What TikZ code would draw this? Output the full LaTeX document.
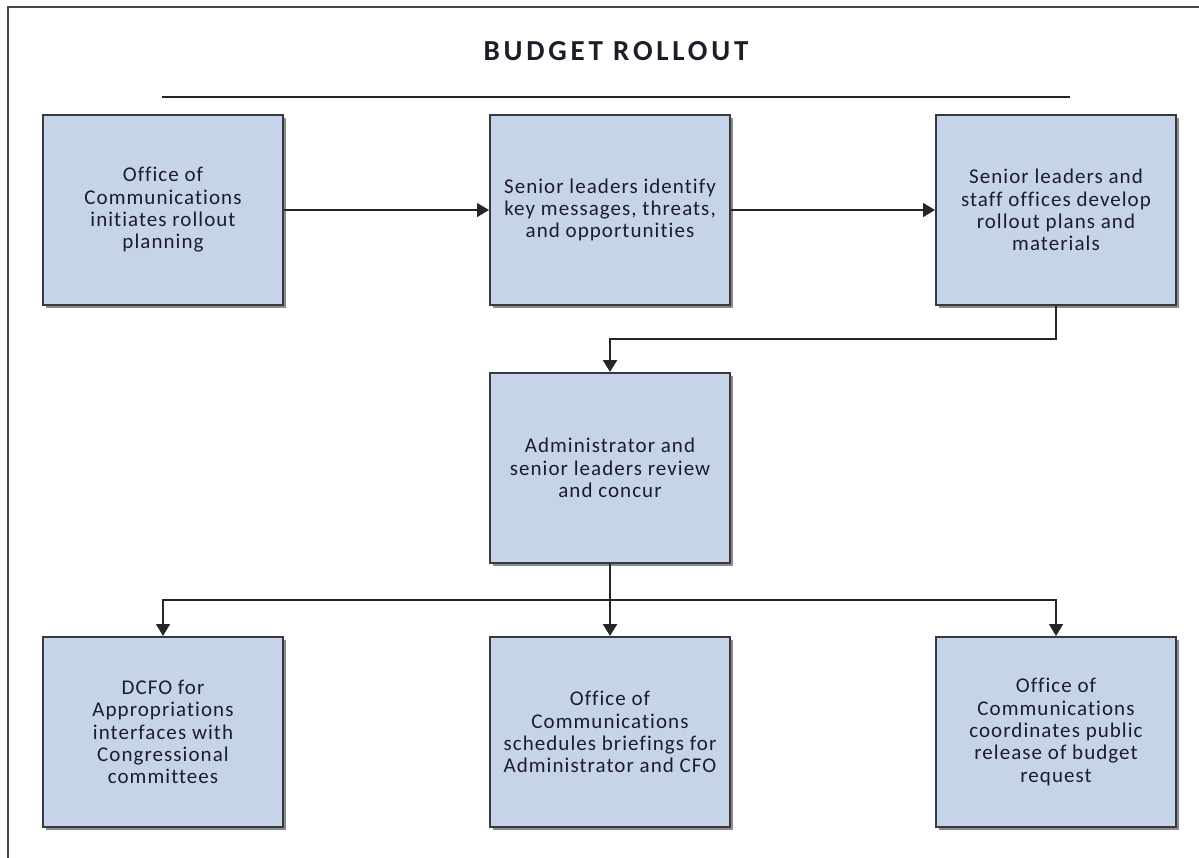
\documentclass[tikz,border=0pt]{standalone}
\usepackage{fontspec}
\setmainfont{Carlito}
\newfontfamily\boxfont[LetterSpace=5,Ligatures=NoCommon]{Carlito}
\newfontfamily\titlefont[LetterSpace=13,Ligatures=NoCommon]{Carlito}
\usetikzlibrary{arrows.meta,shadows}
\definecolor{boxfill}{RGB}{198,212,234}
\definecolor{boxline}{RGB}{55,58,62}
\definecolor{frameline}{RGB}{70,70,70}
\definecolor{inktext}{RGB}{30,28,40}
\tikzset{
  stepbox/.style={draw=boxline, line width=2pt, fill=boxfill, text=inktext,
    minimum width=240pt, minimum height=190pt, inner sep=0pt,
    align=center, font=\boxfont\fontsize{21pt}{22.3pt}\selectfont,
    drop shadow={shadow xshift=3pt, shadow yshift=-3pt, fill=black!45, opacity=1}},
  link/.style={draw=black!85, line width=1.5pt},
  thick link/.style={draw=black!85, line width=2.3pt},
  tip/.style={-{Triangle[length=12pt,width=14pt]}}
}
\begin{document}
\begin{tikzpicture}[x=1pt,y=-1pt]
\useasboundingbox (0,0) rectangle (1199,857);
% outer frame (only top and left edges fall inside the page)
\draw[frameline, line width=2pt] (8,870) -- (8,6.5) -- (1210,6.5);

% heading and rule
\node[text=inktext, font=\titlefont\bfseries\fontsize{29pt}{32pt}\selectfont] (title) at (616,51) {BUDGET ROLLOUT};
\coordinate (ruleL) at (162,97);
\coordinate (ruleR) at (1070,97);
\draw[line width=1.8pt, black!85] (ruleL) -- (ruleR);

% boxes
\node[stepbox] (b1) at (163,210) {Office of\\Communications\\initiates rollout\\planning};
\node[stepbox] (b2) at (610,210) {Senior leaders identify\\key messages, threats,\\and opportunities};
\node[stepbox] (b3) at (1056,210) {Senior leaders and\\staff offices develop\\rollout plans and\\materials};
\node[stepbox] (b4) at (610,468) {Administrator and\\senior leaders review\\and concur};
\node[stepbox] (b5) at (163,732) {DCFO for\\Appropriations\\interfaces with\\Congressional\\committees};
\node[stepbox] (b6) at (610,732) {Office of\\Communications\\schedules briefings for\\Administrator and CFO};
\node[stepbox] (b7) at (1056,732) {Office of\\Communications\\coordinates public\\release of budget\\request};

% connectors
\draw[link, tip] (b1) -- (b2);
\draw[link, tip] (b2) -- (b3);
\draw[thick link, tip] (b3.south) -- ++(0,33) -| (b4.north);
\coordinate (split) at (610,600);
\draw[thick link, tip] (b4.south) -- (b6.north);
\draw[link, tip] (split) -| (b5.north);
\draw[link, tip] (split) -| (b7.north);
\end{tikzpicture}
\end{document}
